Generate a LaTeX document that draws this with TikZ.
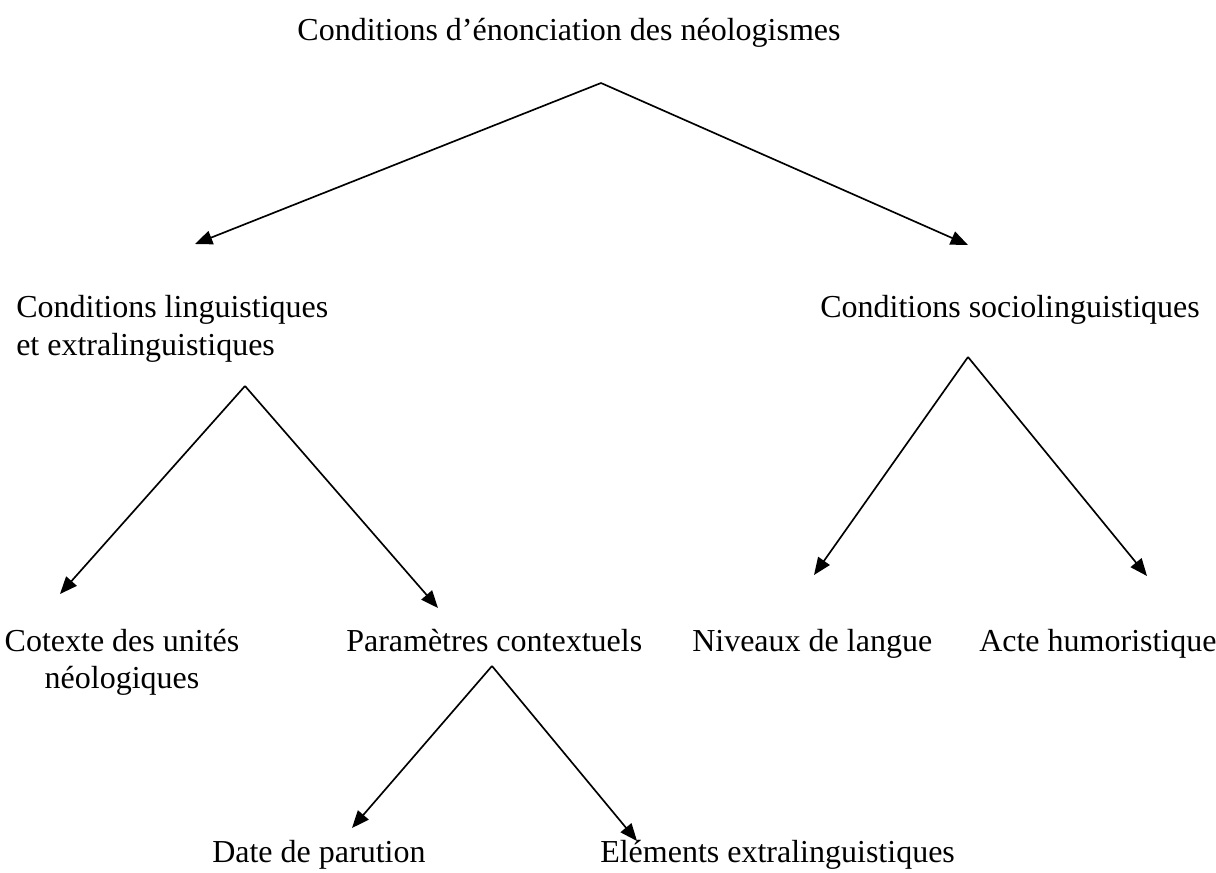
\documentclass[tikz,border=0pt]{standalone}
\usepackage{fontspec}
\setmainfont{Liberation Serif}
\usetikzlibrary{arrows.meta}
\begin{document}
\begin{tikzpicture}[x=0.75pt,y=-0.75pt,
  lbl/.style={inner sep=0pt,font=\fontsize{24}{28}\selectfont},
  arr/.style={line width=1.25pt,-{Triangle[length=13pt,width=10.5pt]}}]
\useasboundingbox (0,0) rectangle (1216,872);
% texts
\node[lbl,anchor=base] (title) at (569,40) {Conditions d’énonciation des néologismes};
\node[lbl,anchor=base west] (ling1) at (16,317) {Conditions linguistiques};
\node[lbl,anchor=base west] (ling2) at (16,355) {et extralinguistiques};
\node[lbl,anchor=base west] (socio) at (820,317) {Conditions sociolinguistiques};
\node[lbl,anchor=base] (cot1) at (122,651) {Cotexte des unités};
\node[lbl,anchor=base] (cot2) at (122,688) {néologiques};
\node[lbl,anchor=base west] (param) at (346,651) {Paramètres contextuels};
\node[lbl,anchor=base west] (niv) at (692,651) {Niveaux de langue};
\node[lbl,anchor=base west] (acte) at (979,651) {Acte humoristique};
\node[lbl,anchor=base west] (date) at (212,862) {Date de parution};
\node[lbl,anchor=base west] (elem) at (600,862) {Eléments extralinguistiques};
% apices and tips
\coordinate (a0) at (601,83);
\coordinate (t0l) at (195,244);
\coordinate (t0r) at (968,245);
\coordinate (a1) at (245,386);
\coordinate (t1l) at (60,594);
\coordinate (t1r) at (438,608);
\coordinate (a2) at (968,357);
\coordinate (t2l) at (814,575);
\coordinate (t2r) at (1147,576);
\coordinate (a3) at (492,666);
\coordinate (t3l) at (352,828);
\coordinate (t3r) at (637,841);
\draw[arr] (a0) -- (t0l);
\draw[arr] (a0) -- (t0r);
\draw[arr] (a1) -- (t1l);
\draw[arr] (a1) -- (t1r);
\draw[arr] (a2) -- (t2l);
\draw[arr] (a2) -- (t2r);
\draw[arr] (a3) -- (t3l);
\draw[arr] (a3) -- (t3r);
\end{tikzpicture}
\end{document}
